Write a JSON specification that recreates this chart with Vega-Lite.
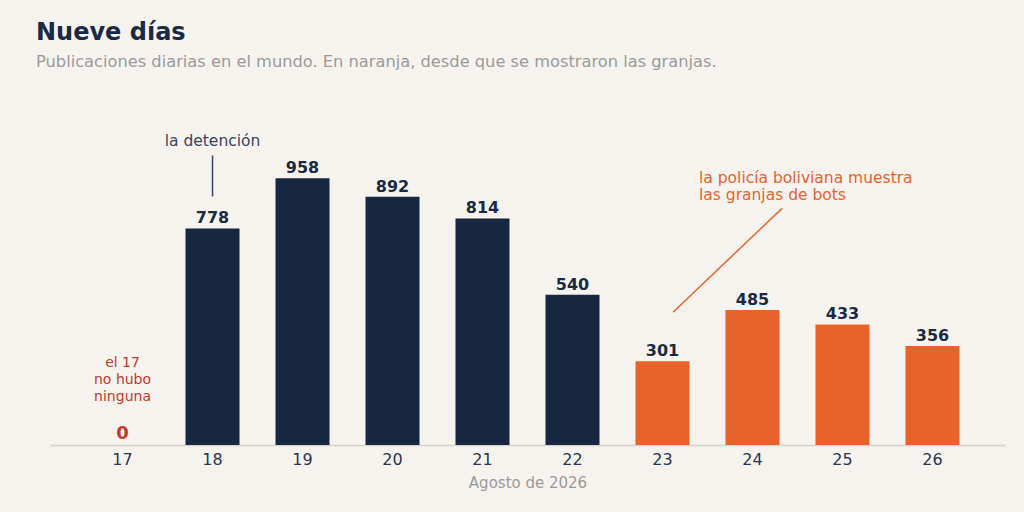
{
  "$schema": "https://vega.github.io/schema/vega-lite/v6.json",
  "width": 955,
  "height": 334,
  "autosize": "none",
  "padding": {"left": 50, "top": 111, "right": 19, "bottom": 67},
  "background": "#f6f3ee",
  "config": {
    "view": {"stroke": null},
    "font": "DejaVu Sans"
  },
  "title": {
    "text": "Nueve días",
    "subtitle": "Publicaciones diarias en el mundo. En naranja, desde que se mostraron las granjas.",
    "anchor": "start",
    "dx": -14,
    "offset": 41,
    "fontSize": 24,
    "fontWeight": "bold",
    "color": "#1a2a44",
    "subtitleFontSize": 16.25,
    "subtitleColor": "#9b9b9b",
    "subtitlePadding": 9
  },
  "datasets": {
    "days": [
      {"day": "17", "posts": 0, "phase": "antes"},
      {"day": "18", "posts": 778, "phase": "antes"},
      {"day": "19", "posts": 958, "phase": "antes"},
      {"day": "20", "posts": 892, "phase": "antes"},
      {"day": "21", "posts": 814, "phase": "antes"},
      {"day": "22", "posts": 540, "phase": "antes"},
      {"day": "23", "posts": 301, "phase": "granjas"},
      {"day": "24", "posts": 485, "phase": "granjas"},
      {"day": "25", "posts": 433, "phase": "granjas"},
      {"day": "26", "posts": 356, "phase": "granjas"}
    ],
    "notes": [
      {"kind": "detencion", "x": 18, "y": 1094, "label": "la detención"},
      {"kind": "policia", "x": 23.406, "y": 961, "label": "la policía boliviana muestra"},
      {"kind": "policia", "x": 23.406, "y": 897, "label": "las granjas de bots"},
      {"kind": "cero", "x": 17, "y": 296, "label": "el 17"},
      {"kind": "cero", "x": 17, "y": 232, "label": "no hubo"},
      {"kind": "cero", "x": 17, "y": 171, "label": "ninguna"}
    ],
    "lines": [
      {"kind": "detencion", "x": 18, "y": 1040, "x2": 18, "y2": 893},
      {"kind": "policia", "x": 24.328, "y": 850, "x2": 23.117, "y2": 477}
    ]
  },
  "layer": [
    {
      "data": {"name": "days"},
      "layer": [
        {
          "mark": {"type": "bar"},
          "encoding": {
            "x": {
              "field": "day",
              "type": "ordinal",
              "scale": {"paddingInner": 0.4, "paddingOuter": 0.506},
              "axis": {
                "title": "Agosto de 2026",
                "titleColor": "#9b9b9b",
                "titleFontSize": 15,
                "titleFontWeight": "normal",
                "titlePadding": 8,
                "labelAngle": 0,
                "labelFontSize": 16,
                "labelColor": "#2a3550",
                "labelPadding": 6,
                "ticks": false,
                "domainColor": "#d6d3ce",
                "domainWidth": 1.5
              }
            },
            "y": {
              "field": "posts",
              "type": "quantitative",
              "scale": {"domain": [0, 1200]},
              "axis": null
            },
            "color": {
              "field": "phase",
              "type": "nominal",
              "scale": {"domain": ["antes", "granjas"], "range": ["#182740", "#e8622c"]},
              "legend": null
            }
          }
        },
        {
          "mark": {"type": "text", "baseline": "bottom", "dy": -2, "fontWeight": "bold"},
          "encoding": {
            "x": {"field": "day", "type": "ordinal"},
            "y": {"field": "posts", "type": "quantitative"},
            "text": {"field": "posts", "type": "quantitative"},
            "color": {
              "condition": {"test": "datum.posts === 0", "value": "#c0392b"},
              "value": "#1a2a44"
            },
            "size": {
              "condition": {"test": "datum.posts === 0", "value": 18},
              "value": 16
            }
          }
        }
      ]
    },
    {
      "layer": [
        {
          "data": {"name": "lines"},
          "mark": {"type": "rule", "strokeWidth": 1.5},
          "encoding": {
            "x": {
              "field": "x",
              "type": "quantitative",
              "scale": {"domain": [16.194, 26.806], "nice": false, "zero": false},
              "axis": null
            },
            "x2": {"field": "x2"},
            "y": {"field": "y", "type": "quantitative", "scale": {"domain": [0, 1200]}},
            "y2": {"field": "y2"},
            "color": {
              "field": "kind",
              "type": "nominal",
              "scale": {"domain": ["detencion", "policia", "cero"], "range": ["#3a4560", "#e8622c", "#c0392b"]},
              "legend": null
            }
          }
        },
        {
          "data": {"name": "notes"},
          "transform": [{"filter": "datum.kind !== 'policia'"}],
          "mark": {"type": "text", "align": "center", "baseline": "middle"},
          "encoding": {
            "x": {"field": "x", "type": "quantitative"},
            "y": {"field": "y", "type": "quantitative"},
            "text": {"field": "label"},
            "color": {"field": "kind", "type": "nominal", "legend": null},
            "size": {
              "condition": {"test": "datum.kind === 'cero'", "value": 14},
              "value": 15.5
            }
          }
        },
        {
          "data": {"name": "notes"},
          "transform": [{"filter": "datum.kind === 'policia'"}],
          "mark": {"type": "text", "align": "left", "baseline": "middle", "fontSize": 15.5},
          "encoding": {
            "x": {"field": "x", "type": "quantitative"},
            "y": {"field": "y", "type": "quantitative"},
            "text": {"field": "label"},
            "color": {"field": "kind", "type": "nominal", "legend": null}
          }
        }
      ]
    }
  ],
  "resolve": {"scale": {"x": "independent", "color": "independent"}}
}
